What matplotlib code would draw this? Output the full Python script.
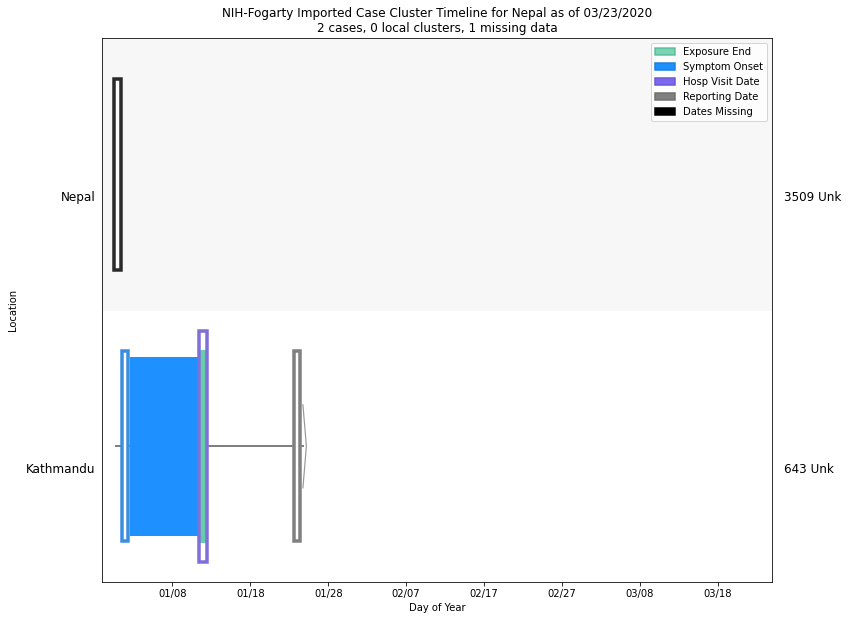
import matplotlib
matplotlib.use('Agg')
import matplotlib.pyplot as plt
from matplotlib.patches import Rectangle, Patch, Polygon

# day-of-year numbers (0 = 01/01/2020)
locations = ['Kathmandu', 'Nepal']
right_labels = ['643 Unk', '3509 Unk']
tick_days = [7, 17, 27, 37, 47, 57, 67, 77]
tick_labels = ['01/08', '01/18', '01/28', '02/07', '02/17', '02/27', '03/08', '03/18']

# Kathmandu case
line_start = -0.2
line_end = 23.75
symptom_onset = 0.93
exposure_end = 10.85
hosp_visit = 10.94
reporting = 22.98
# Nepal case, dates missing
missing_day = -0.05

c_expo = '#66cdaa'
c_sym = 'dodgerblue'
c_hosp = 'mediumslateblue'
c_rep = 'grey'
c_miss = 'black'

fig = plt.figure(figsize=(852/72, 620/72), dpi=72)
ax = fig.add_axes([0.12, 0.061, 0.7865, 0.877])

ax.axhspan(0.5, 1.5, color='#f7f7f7', zorder=0)

# Kathmandu row (y=0)
y = 0
ax.plot([line_start, line_end], [y, y], color='grey', lw=2, zorder=1)
ax.add_patch(Polygon([[line_end, y + 0.155], [line_end + 0.45, y], [line_end, y - 0.155]],
                     closed=False, fill=False, edgecolor='grey', lw=1.2, alpha=0.8, zorder=2))
ax.add_patch(Rectangle((symptom_onset + 0.58, y - 0.33), hosp_visit - symptom_onset - 1.1, 0.66,
                       facecolor=c_sym, edgecolor='none', zorder=2))
ax.add_patch(Rectangle((symptom_onset - 0.35, y - 0.35), 0.7, 0.7,
                       facecolor='white', edgecolor='#3a8ee0', lw=3.5, zorder=3))
ax.add_patch(Rectangle((exposure_end - 0.15, y - 0.35), 0.3, 0.7,
                       facecolor='white', edgecolor=c_expo, lw=3, zorder=3))
ax.add_patch(Rectangle((hosp_visit - 0.5, y - 0.425), 1.0, 0.85,
                       facecolor='none', edgecolor='#7f6fd8', lw=3.5, zorder=4))
ax.add_patch(Rectangle((reporting - 0.42, y - 0.35), 0.84, 0.7,
                       facecolor='white', edgecolor=c_rep, lw=3.5, zorder=3))

# Nepal row (y=1)
y = 1
ax.add_patch(Rectangle((missing_day - 0.43, y - 0.35), 0.86, 0.7,
                       facecolor='white', edgecolor=c_miss, lw=3.5, alpha=0.83, zorder=3))

for i, name in enumerate(locations):
    ax.text(-0.01, i - 0.085, name, transform=ax.get_yaxis_transform(),
            ha='right', va='center', fontsize=12)
    ax.text(1.018, i - 0.085, right_labels[i], transform=ax.get_yaxis_transform(),
            ha='left', va='center', fontsize=12)

ax.set_xlim(-2, 84)
ax.set_ylim(-0.5, 1.5)
ax.set_xticks(tick_days)
ax.set_xticklabels(tick_labels)
ax.set_yticks([])
ax.set_xlabel('Day of Year')
ax.set_ylabel('Location', labelpad=84)
ax.set_title('NIH-Fogarty Imported Case Cluster Timeline for Nepal as of 03/23/2020\n'
             '2 cases, 0 local clusters, 1 missing data', fontsize=12)

handles = [Patch(facecolor=c_expo, edgecolor='#4fb890', alpha=0.85, lw=1.5, label='Exposure End'),
           Patch(facecolor=c_sym, edgecolor='#1a7fe0', lw=1.5, label='Symptom Onset'),
           Patch(facecolor=c_hosp, edgecolor='#6a58d8', lw=1.5, label='Hosp Visit Date'),
           Patch(facecolor=c_rep, edgecolor='#707070', lw=1.5, label='Reporting Date'),
           Patch(facecolor=c_miss, edgecolor=c_miss, lw=1.5, label='Dates Missing')]
ax.legend(handles=handles, loc='upper right')

fig.savefig('out.png', dpi=72)
